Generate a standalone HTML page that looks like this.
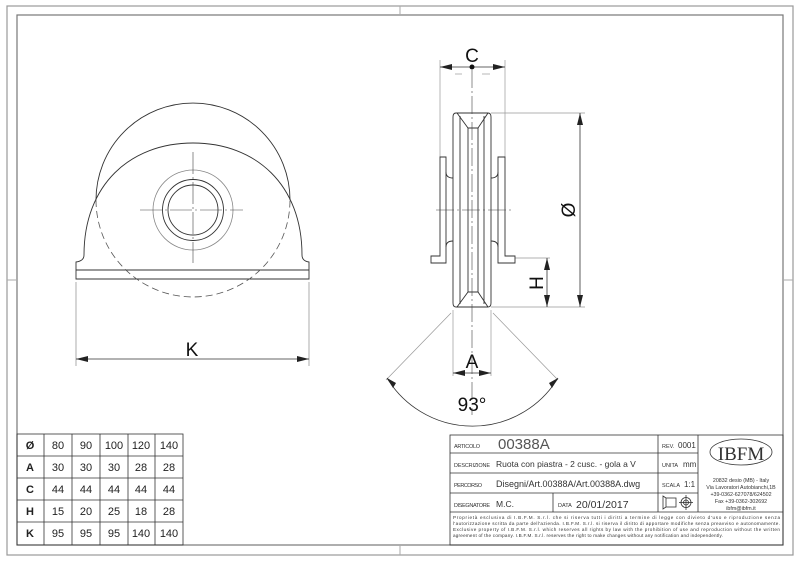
<!DOCTYPE html>
<html><head><meta charset="utf-8"><style>
html,body{margin:0;padding:0;background:#fff;}
svg{display:block;font-family:"Liberation Sans",sans-serif;}
</style></head><body>
<svg width="800" height="561" viewBox="0 0 800 561" xmlns="http://www.w3.org/2000/svg">
<rect x="0" y="0" width="800" height="561" fill="#fff"/>
<rect x="7" y="6" width="786" height="549" fill="none" stroke="#999" stroke-width="1.2"/>
<rect x="17" y="15" width="766" height="530" fill="none" stroke="#777" stroke-width="1.2"/>
<g stroke="#aaa" stroke-width="1">
<line x1="400" y1="6" x2="400" y2="15"/><line x1="400" y1="545" x2="400" y2="555"/>
<line x1="7" y1="280" x2="17" y2="280"/><line x1="783" y1="280" x2="793" y2="280"/>
</g>

<g fill="none" stroke="#333" stroke-width="0.9">
<path d="M96,200 A97,97 0 0 1 290,200"/>
<path d="M84,255 C84,185 130,143 193,143 C256,143 302,185 302,255 Q302,261 309,262 L309,279 L76,279 L76,262 Q84,261 84,255"/>
<line x1="76" y1="270" x2="309" y2="270"/>
<circle cx="193" cy="210" r="30.5"/>
<circle cx="193" cy="210" r="25"/>
</g>
<path d="M96,200 A97,97 0 0 0 290,200" fill="none" stroke="#555" stroke-width="0.8" stroke-dasharray="7,4"/>
<circle cx="193" cy="210" r="40" fill="none" stroke="#888" stroke-width="0.8"/>
<g stroke="#444" stroke-width="0.6">
<line x1="140" y1="210" x2="243" y2="210" stroke-dasharray="22,3,2,3"/>
<line x1="193" y1="152" x2="193" y2="263" stroke-dasharray="22,3,2,3"/>
</g>
<g stroke="#888" stroke-width="0.7">
<line x1="76" y1="282" x2="76" y2="366"/><line x1="309" y1="282" x2="309" y2="366"/>
</g>
<line x1="76" y1="359" x2="309" y2="359" stroke="#333" stroke-width="0.8"/>
<path d="M76,359 l12,-3 v6z M309,359 l-12,-3 v6z" fill="#222"/>
<text x="192" y="356" font-size="19" text-anchor="middle" fill="#111">K</text>

<g stroke="#999" stroke-width="0.7" fill="none">
<line x1="440" y1="60" x2="440" y2="157"/><line x1="505" y1="60" x2="505" y2="157"/>
<line x1="491" y1="113" x2="585" y2="113"/>
<line x1="491" y1="307" x2="585" y2="307"/>
<line x1="515" y1="258" x2="550" y2="258"/>
<line x1="453" y1="310" x2="453" y2="376"/><line x1="491" y1="310" x2="491" y2="376"/>
<line x1="451" y1="313" x2="386" y2="380"/><line x1="493" y1="313" x2="558" y2="380"/>
<line x1="455" y1="74" x2="462" y2="74"/><line x1="482" y1="74" x2="490" y2="74"/>
</g>
<line x1="440" y1="67" x2="505" y2="67" stroke="#333" stroke-width="0.8"/>
<path d="M440,67 l12,-3 v6z M505,67 l-12,-3 v6z" fill="#222"/>
<circle cx="472" cy="67" r="2.5" fill="#111"/>
<text x="472" y="62" font-size="19" text-anchor="middle" fill="#111">C</text>

<g fill="none" stroke="#333" stroke-width="0.9">
<path d="M456,113 L488,113 Q491,113 491,117 L491,303 Q491,307 488,307 L456,307 Q453,307 453,303 L453,117 Q453,113 456,113Z"/>
<line x1="460" y1="116" x2="460" y2="304"/><line x1="484" y1="116" x2="484" y2="304"/>
<path d="M457,113 L468,128 L478,128 L488,113"/>
<path d="M457,307 L468,292 L478,292 L488,307"/>
<line x1="468" y1="128" x2="468" y2="292"/><line x1="478" y1="128" x2="478" y2="292"/>
<path d="M446,157 L440,157 L440,256 L431,256 L431,263 L446,263 Z"/>
<path d="M446,172 Q446,178 453,178 M446,247 Q446,241 453,241"/>
<path d="M498,157 L505,157 L505,256 L515,256 L515,263 L498,263 Z"/>
<path d="M498,172 Q498,178 491,178 M498,247 Q498,241 491,241"/>
</g>
<g stroke="#444" stroke-width="0.6" stroke-dasharray="18,3,2,3">
<line x1="472" y1="70" x2="472" y2="415"/>
<line x1="436" y1="210" x2="512" y2="210"/>
</g>
<line x1="580" y1="113" x2="580" y2="307" stroke="#333" stroke-width="0.8"/>
<path d="M580,113 l-3,12 h6z M580,307 l-3,-12 h6z" fill="#222"/>
<text transform="translate(575,210) rotate(-90)" font-size="19" text-anchor="middle" fill="#111">Ø</text>
<line x1="547" y1="258" x2="547" y2="307" stroke="#333" stroke-width="0.8"/>
<path d="M547,258 l-3,12 h6z M547,307 l-3,-12 h6z" fill="#222"/>
<text transform="translate(543,283) rotate(-90)" font-size="19" text-anchor="middle" fill="#111">H</text>
<line x1="453" y1="373" x2="491" y2="373" stroke="#333" stroke-width="0.8"/>
<path d="M453,373 l12,-3 v6z M491,373 l-12,-3 v6z" fill="#222"/>
<text x="472" y="368" font-size="19" text-anchor="middle" fill="#111">A</text>
<path d="M387,378 A100,100 0 0 0 558,378" fill="none" stroke="#333" stroke-width="0.8"/>
<path d="M387,378 l6,10 l3,-5z M558,378 l-6,10 l-3,-5z" fill="#222"/>
<text x="472" y="411" font-size="19" text-anchor="middle" fill="#111">93°</text>

<g stroke="#333" stroke-width="0.8" fill="none">
<rect x="17" y="434" width="166" height="111"/>
<line x1="17" y1="456" x2="183" y2="456"/><line x1="17" y1="478" x2="183" y2="478"/>
<line x1="17" y1="500" x2="183" y2="500"/><line x1="17" y1="522" x2="183" y2="522"/>
<line x1="44" y1="434" x2="44" y2="545"/><line x1="72" y1="434" x2="72" y2="545"/>
<line x1="100" y1="434" x2="100" y2="545"/><line x1="128" y1="434" x2="128" y2="545"/>
<line x1="155" y1="434" x2="155" y2="545"/>
</g>
<g font-size="11" text-anchor="middle" fill="#222">
<g font-weight="bold"><text x="30" y="449">Ø</text><text x="30" y="471">A</text><text x="30" y="493">C</text><text x="30" y="515">H</text><text x="30" y="537">K</text></g>
<text x="58" y="449">80</text><text x="86" y="449">90</text><text x="114" y="449">100</text><text x="141" y="449">120</text><text x="169" y="449">140</text>
<text x="58" y="471">30</text><text x="86" y="471">30</text><text x="114" y="471">30</text><text x="141" y="471">28</text><text x="169" y="471">28</text>
<text x="58" y="493">44</text><text x="86" y="493">44</text><text x="114" y="493">44</text><text x="141" y="493">44</text><text x="169" y="493">44</text>
<text x="58" y="515">15</text><text x="86" y="515">20</text><text x="114" y="515">25</text><text x="141" y="515">18</text><text x="169" y="515">28</text>
<text x="58" y="537">95</text><text x="86" y="537">95</text><text x="114" y="537">95</text><text x="141" y="537">140</text><text x="169" y="537">140</text>
</g>

<g stroke="#333" stroke-width="0.8" fill="none">
<rect x="450" y="435" width="333" height="110"/>
<line x1="450" y1="453" x2="698" y2="453"/><line x1="450" y1="473" x2="698" y2="473"/>
<line x1="450" y1="493" x2="698" y2="493"/><line x1="450" y1="512" x2="783" y2="512"/>
<line x1="658" y1="435" x2="658" y2="512"/><line x1="698" y1="435" x2="698" y2="512"/>
<line x1="553" y1="493" x2="553" y2="512"/>
<ellipse cx="741" cy="452" rx="31" ry="13"/>
<rect x="666" y="498" width="10" height="9"/><path d="M666,498 l-3,-2 v13 l3,-2"/>
<circle cx="686" cy="502.5" r="5"/><circle cx="686" cy="502.5" r="2.5"/>
<line x1="679" y1="502.5" x2="693" y2="502.5"/><line x1="686" y1="495" x2="686" y2="510"/>
</g>
<g fill="#333">
<text x="454" y="448" font-size="5.5" textLength="26">ARTICOLO</text>
<text x="498" y="449" font-size="15" fill="#555">00388A</text>
<text x="454" y="467" font-size="5.5" textLength="36">DESCRIZIONE</text>
<text x="496" y="467" font-size="8.5">Ruota con piastra - 2 cusc. - gola a V</text>
<text x="454" y="487" font-size="5.5" textLength="28">PERCORSO</text>
<text x="496" y="487" font-size="9">Disegni/Art.00388A/Art.00388A.dwg</text>
<text x="454" y="507" font-size="5.5" textLength="36">DISEGNATORE</text>
<text x="496" y="507" font-size="8.5">M.C.</text>
<text x="558" y="507" font-size="5.5">DATA</text>
<text x="576" y="508" font-size="10.5">20/01/2017</text>
<text x="662" y="448" font-size="5.5">REV.</text><text x="678" y="448" font-size="8">0001</text>
<text x="662" y="467" font-size="5.5">UNITA</text><text x="683" y="467" font-size="8">mm</text>
<text x="662" y="487" font-size="5.5">SCALA</text><text x="684" y="487" font-size="8">1:1</text>
<text x="741" y="460" font-size="19" text-anchor="middle" font-family="Liberation Serif,serif">IBFM</text>
<g font-size="5.3" text-anchor="middle">
<text x="741" y="482">20832 desio (MB) - Italy</text>
<text x="741" y="489">Via Lavoratori Autobianchi,1B</text>
<text x="741" y="496">+39-0362-627078/624502</text>
<text x="741" y="503">Fax +39-0362-302692</text>
<text x="741" y="510">ibfm@ibfm.it</text>
</g>
<g font-size="4.6">
<text x="453" y="519" textLength="327">Proprietà esclusiva di I.B.F.M. S.r.l. che si riserva tutti i diritti a termine di legge con divieto d'uso e riproduzione senza</text>
<text x="453" y="525" textLength="327">l'autorizzazione scritta da parte dell'azienda. I.B.F.M. S.r.l. si riserva il diritto di apportare modifiche senza preavviso e autonomamente.</text>
<text x="453" y="531" textLength="327">Exclusive property of I.B.F.M. S.r.l. which reserves all rights by law with the prohibition of use and reproduction without the written</text>
<text x="453" y="537" textLength="270">agreement of the company. I.B.F.M. S.r.l. reserves the right to make changes without any notification and independently.</text>
</g>
</g>
</svg>
</body></html>
